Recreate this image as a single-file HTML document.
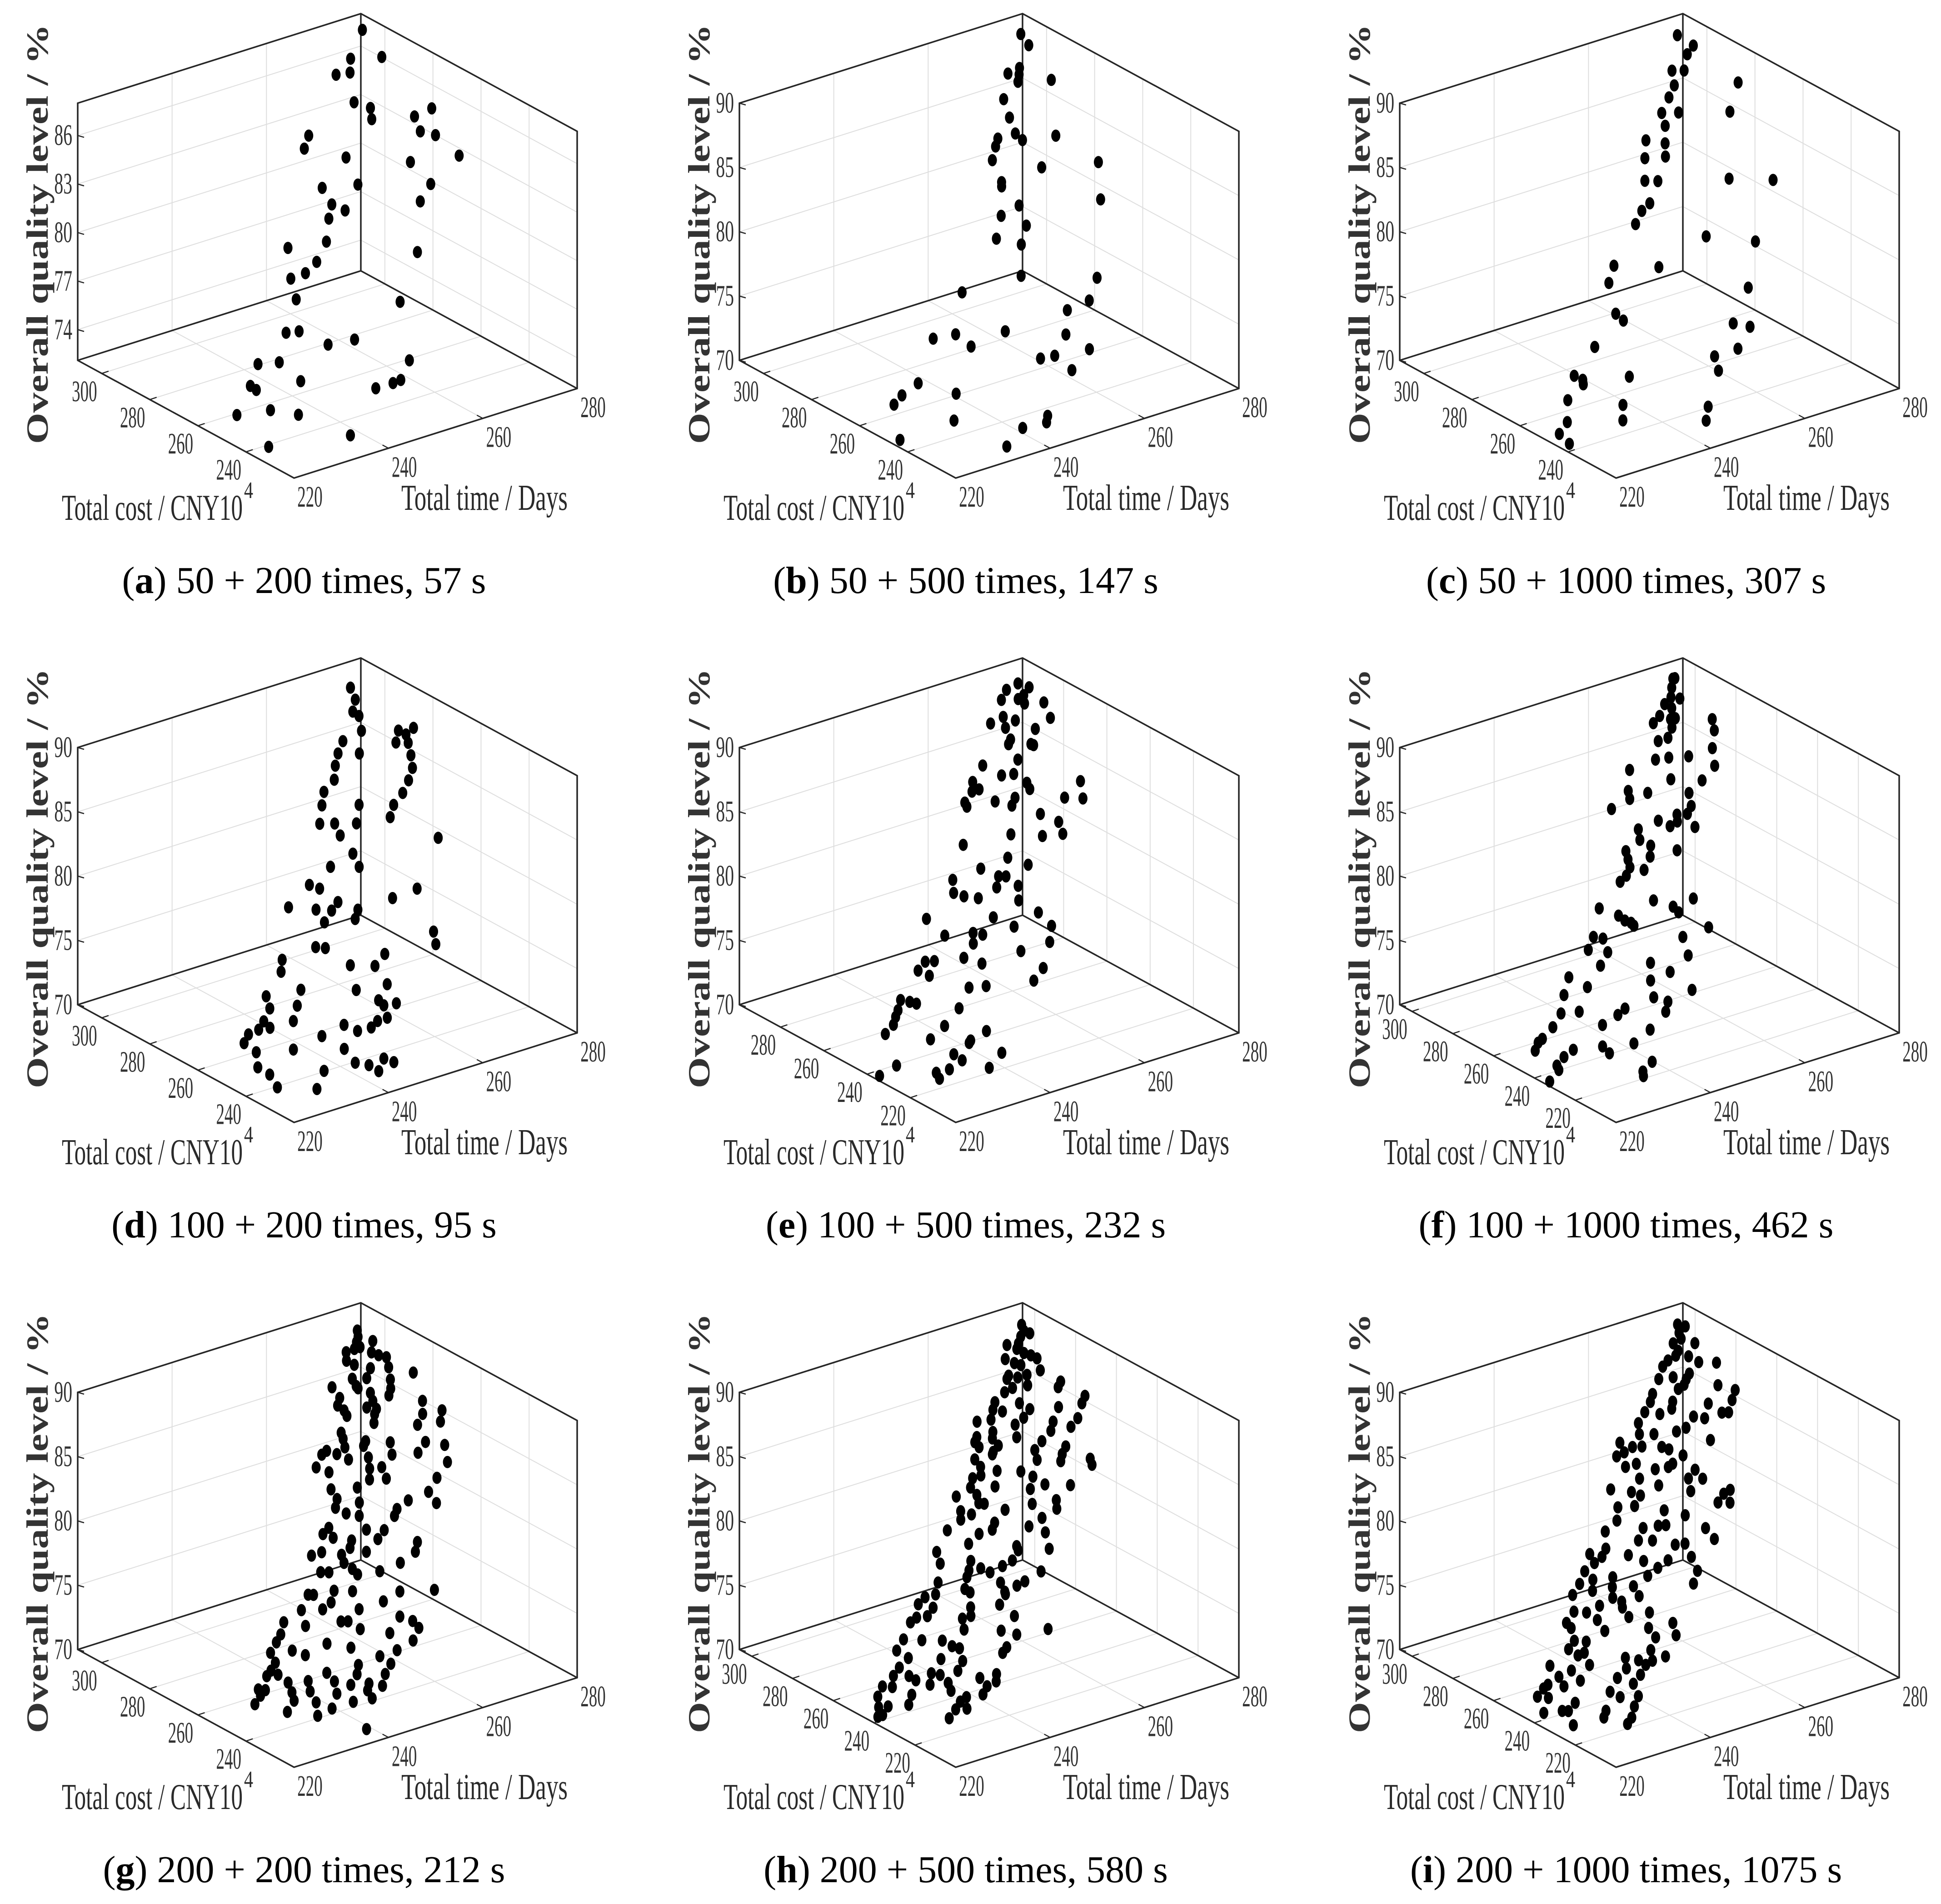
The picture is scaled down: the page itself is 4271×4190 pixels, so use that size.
<!DOCTYPE html>
<html>
<head>
<meta charset="utf-8">
<title>3D scatter comparison</title>
<style>
html,body{margin:0;padding:0;background:#fff;}
svg{display:block;}
</style>
</head>
<body>
<svg id="fig" xmlns="http://www.w3.org/2000/svg" width="4271" height="4190" viewBox="0 0 4271 4190">
<rect x="0" y="0" width="4271" height="4190" fill="#ffffff"/>
</svg>
<script>
// ---------- data ----------
const timeTicks=[220,240,260,280];
const qTicksA=[74,77,80,83,86];
const qTicks=[70,75,80,85,90];
const costTicks1=[240,260,280,300];
const costTicks2=[220,240,260,280,300];
const costTicksE=[220,240,260,280];

const costA=[306.6,299.9,301.5,298.8,299.1,292.4,290.3,287.8,286.2,285.7,282.3,280.5,288.7,286.2,281.8,274.8,276.8,275.5,270.9,277.0,273.0,271.2,268.0,270.5,266.0,267.3,258.0,262.4,261.0,260.6,256.0,249.1,250.0,249.5,244.1,244.9,244.6,245.4,236.6,239.2,241.5,240.2,233.1,232.8,232.9,236.5,235.3,232.7,225.0,228.0];
const timeA=[278.6,279.3,273.5,272.0,269.2,269.6,272.0,271.0,282.9,279.0,278.5,280.8,258.1,255.9,262.5,282.9,273.6,261.8,274.9,255.0,255.0,256.9,271.2,253.1,250.3,242.8,265.5,246.4,243.3,240.0,238.8,257.3,233.6,236.1,245.1,239.9,229.4,225.3,252.9,231.2,221.7,222.3,249.3,247.5,243.9,216.3,222.8,227.4,234.5,218.7];
const qualA=[87.4,86.2,86.5,86.0,86.1,84.9,84.5,84.1,83.8,83.7,83.1,82.8,84.2,83.8,83.0,81.8,82.1,81.9,81.1,82.2,81.5,81.1,80.6,81.0,80.2,80.4,78.8,79.6,79.3,79.3,78.5,77.2,77.4,77.3,76.4,76.5,76.4,76.6,75.0,75.5,75.9,75.7,74.4,74.4,74.4,75.0,74.8,74.3,73.0,73.5];

const costB=[306.0,303.1,298.8,299.1,297.9,296.4,294.7,293.9,289.7,286.1,286.3,284.7,284.3,283.2,282.3,277.5,275.1,277.1,276.3,267.3,271.2,270.2,266.6,266.1,263.2,256.8,251.7,257.2,247.5,246.8,246.7,249.1,249.8,242.1,245.8,237.6,238.7,238.5,234.5,241.7,240.2,238.8,237.1,231.9,231.4,226.7,225.6,225.9,223.1];
const timeB=[277.6,277.8,271.2,273.8,273.1,272.1,278.3,267.8,266.9,266.3,262.7,261.4,266.9,273.4,259.5,267.5,278.3,258.8,258.4,274.8,259.5,255.2,258.7,252.1,255.9,252.6,266.1,240.3,262.3,257.3,244.1,234.8,230.4,254.6,236.4,257.3,247.5,250.4,252.0,223.1,218.9,216.5,228.8,225.7,214.0,242.9,242.1,237.2,232.4];
const qualB=[89.1,88.5,87.5,87.6,87.3,87.0,86.6,86.4,85.5,84.7,84.7,84.4,84.3,84.0,83.8,82.8,82.2,82.7,82.5,80.5,81.4,81.2,80.4,80.2,79.6,78.2,77.0,78.3,76.1,76.0,75.9,76.5,76.6,74.9,75.7,73.9,74.2,74.1,73.2,74.8,74.5,74.2,73.8,72.6,72.5,71.5,71.2,71.3,70.7];

const costC=[306.0,301.5,302.9,299.0,298.5,295.9,294.0,292.5,291.3,290.2,287.1,288.3,286.7,284.8,283.2,282.1,278.5,277.6,273.5,270.5,273.7,272.5,270.2,263.4,259.0,263.3,260.1,260.1,250.2,253.5,251.5,243.9,242.2,248.1,238.4,238.3,235.1,243.5,242.1,241.1,239.6,238.9,234.4,228.6,234.6,231.3,225.9,232.6,230.0];
const timeC=[276.8,276.6,278.6,272.1,274.4,271.0,268.9,282.8,266.0,269.0,278.3,265.2,260.3,263.4,258.3,262.1,255.9,258.2,271.2,279.0,254.5,252.2,249.7,261.2,269.4,241.6,249.5,238.9,263.4,237.0,237.6,257.0,259.7,229.8,255.2,250.2,249.4,223.1,224.2,223.8,232.8,219.4,228.8,243.9,217.1,227.2,242.1,214.4,215.2];
const qualC=[89.1,88.1,88.4,87.6,87.4,86.9,86.4,86.1,85.8,85.6,84.9,85.2,84.8,84.4,84.0,83.8,83.0,82.8,81.9,81.2,81.9,81.7,81.2,79.6,78.7,79.6,78.9,78.9,76.7,77.4,77.0,75.3,74.9,76.2,74.1,74.1,73.4,75.2,74.9,74.7,74.4,74.2,73.2,71.9,73.2,72.5,71.3,72.8,72.2];

const costD=[304.7,301.9,299.6,298.4,295.2,294.3,292.2,289.8,290.8,292.8,291.6,292.4,289.7,287.0,290.5,284.4,282.1,280.0,278.1,275.8,285.1,282.6,279.0,278.1,275.2,276.7,280.3,286.9,270.7,269.6,267.7,268.4,262.0,265.7,267.2,260.7,258.6,261.7,259.0,257.4,259.3,259.5,263.9,249.9,247.2,254.2,253.5,253.8,251.3,247.3,244.6,246.4,243.6,241.0,240.9,242.4,240.8,240.5,234.8,239.2,236.7,233.5,231.3,228.3,235.7,228.5,225.2,231.7,236.5,234.6,234.2,235.1,235.2,238.0,239.4,248.4,246.6,242.1,237.7,242.8,248.2,226.9,227.2,225.8,228.3,225.0];
const timeD=[275.1,274.7,273.0,273.7,272.6,268.2,266.1,264.3,269.9,279.2,280.2,282.2,279.7,278.9,277.5,277.9,275.9,273.6,270.7,268.8,259.5,257.8,255.5,258.2,257.9,262.1,264.5,262.6,258.3,253.0,258.1,275.2,250.7,248.7,247.3,248.7,246.1,245.9,253.4,252.0,260.9,266.2,241.2,264.8,263.9,242.0,243.7,234.7,233.2,228.0,227.4,234.9,232.7,223.2,221.0,225.0,225.5,230.3,227.4,219.2,220.5,219.2,220.6,220.7,233.9,230.7,227.5,236.6,239.0,240.9,243.6,245.4,247.5,248.2,247.8,253.7,250.7,251.0,250.7,244.8,246.3,239.4,242.7,244.1,237.2,240.5];
const qualD=[88.8,88.2,87.7,87.4,86.7,86.5,86.0,85.5,85.7,86.2,85.9,86.1,85.5,84.9,85.7,84.3,83.8,83.3,82.9,82.4,84.5,83.9,83.1,82.9,82.3,82.6,83.4,84.9,81.3,81.0,80.6,80.8,79.3,80.2,80.5,79.0,78.6,79.3,78.7,78.3,78.7,78.8,79.8,76.6,76.0,77.6,77.4,77.5,77.0,76.1,75.5,75.9,75.2,74.7,74.6,75.0,74.6,74.6,73.3,74.3,73.7,73.0,72.5,71.8,73.5,71.9,71.2,72.6,73.7,73.2,73.2,73.4,73.4,74.0,74.3,76.3,75.9,74.9,73.9,75.1,76.3,71.5,71.6,71.3,71.8,71.1];

const costE=[293.7,291.8,292.9,291.1,290.1,290.6,288.7,287.4,287.2,285.3,283.5,286.5,284.4,282.2,281.4,280.6,279.0,278.6,276.3,277.7,274.0,273.4,274.7,270.6,268.8,272.4,272.4,267.2,263.0,264.5,268.7,268.0,266.4,270.5,269.3,262.6,259.4,256.4,260.1,257.3,261.2,255.0,251.9,254.4,251.4,250.8,249.2,253.8,250.8,249.3,247.9,247.8,244.7,247.0,242.7,239.0,240.4,236.5,241.8,240.5,239.3,238.2,233.0,233.0,235.6,232.9,237.3,236.8,235.8,233.9,227.7,225.3,228.4,227.7,230.6,229.4,228.7,228.3,227.2,225.4,224.5,221.6,223.9,219.6,217.3,216.3,215.9,214.5,212.6,211.3,208.8,211.3,211.7,210.0,216.1,214.8];
const timeE=[276.6,278.1,273.8,271.9,275.0,276.4,275.7,279.2,270.5,272.2,278.8,267.5,269.7,275.0,269.4,268.6,272.6,273.0,268.6,261.8,264.1,266.4,258.3,267.9,267.7,257.1,258.6,277.7,276.3,273.1,260.3,264.2,262.8,254.7,254.6,267.1,269.5,269.0,259.7,265.1,250.1,256.7,259.6,250.7,253.1,254.4,251.7,244.5,243.3,244.8,247.2,255.6,254.3,235.8,248.0,250.7,256.5,257.5,237.3,242.7,244.2,241.7,255.5,249.4,238.5,241.1,231.1,232.8,228.9,230.4,251.7,248.6,236.3,239.6,222.8,224.2,225.3,221.2,220.2,218.9,232.4,228.0,216.5,224.1,234.9,231.1,230.6,226.7,227.6,235.4,231.6,224.3,221.7,221.6,215.3,211.1];
const qualE=[88.9,88.6,88.8,88.4,88.2,88.3,87.9,87.7,87.6,87.3,86.9,87.5,87.1,86.6,86.5,86.3,86.0,85.9,85.5,85.7,85.0,84.9,85.1,84.3,84.0,84.7,84.7,83.6,82.8,83.1,83.9,83.8,83.5,84.3,84.1,82.7,82.1,81.5,82.2,81.7,82.4,81.2,80.6,81.1,80.5,80.4,80.0,81.0,80.4,80.1,79.8,79.8,79.1,79.6,78.7,78.0,78.3,77.5,78.6,78.3,78.1,77.8,76.8,76.8,77.3,76.8,77.7,77.6,77.4,77.0,75.7,75.3,75.9,75.7,76.3,76.1,75.9,75.9,75.6,75.3,75.1,74.5,75.0,74.1,73.7,73.5,73.4,73.1,72.7,72.5,72.0,72.5,72.5,72.2,73.4,73.2];

const costF=[301.9,301.8,299.9,297.5,296.6,296.2,294.8,294.0,292.4,292.1,292.5,290.3,288.1,288.0,289.3,286.2,282.3,277.7,283.8,283.3,281.9,283.3,277.9,275.3,278.2,276.3,276.5,273.4,270.0,275.3,269.1,268.4,269.0,267.3,266.7,264.7,268.4,265.8,263.5,264.1,260.5,261.9,261.0,260.0,258.2,258.1,257.2,250.1,247.7,247.4,245.4,252.4,249.2,247.5,246.5,245.8,239.5,246.0,244.8,239.4,243.2,241.3,234.5,238.6,235.6,238.4,232.0,231.4,234.6,225.9,234.3,227.1,225.0,230.2,229.4,226.6,225.7,222.6,224.2,219.6,227.5,225.7,225.0,223.2,217.6,219.3,217.1,220.5,219.5,218.1,216.7,211.9,210.2,209.0,214.7];
const timeF=[276.1,276.5,275.0,273.8,275.3,271.9,272.8,269.9,271.5,272.4,267.9,270.9,269.1,267.0,279.0,278.1,276.0,274.5,264.6,267.2,270.8,258.9,265.3,270.8,256.4,255.9,259.8,267.2,266.2,251.6,262.8,264.7,258.8,262.1,260.3,264.7,254.3,253.5,254.8,249.8,259.1,249.3,253.6,248.9,251.1,247.3,245.6,249.6,257.0,252.6,252.9,239.1,241.8,242.4,243.3,243.6,256.7,235.1,236.6,251.2,232.8,236.1,250.2,233.4,242.7,226.6,245.3,240.9,228.9,247.3,223.8,239.7,241.8,221.4,224.9,233.4,231.5,240.3,227.6,235.7,218.5,215.5,214.3,212.9,231.4,225.5,226.0,219.8,217.4,215.3,215.1,232.8,230.1,229.7,212.3];
const qualF=[89.2,89.2,88.8,88.4,88.2,88.2,87.9,87.7,87.4,87.4,87.5,87.0,86.6,86.6,86.8,86.3,85.5,84.7,85.8,85.7,85.5,85.7,84.7,84.2,84.8,84.4,84.4,83.8,83.2,84.2,83.0,82.9,83.0,82.7,82.6,82.2,82.9,82.4,82.0,82.1,81.4,81.7,81.5,81.3,81.0,81.0,80.8,79.5,79.0,78.9,78.6,79.9,79.3,79.0,78.8,78.6,77.5,78.7,78.5,77.4,78.2,77.8,76.5,77.3,76.7,77.2,76.0,75.9,76.5,74.9,76.5,75.1,74.7,75.7,75.5,75.0,74.8,74.3,74.6,73.7,75.2,74.8,74.7,74.4,73.3,73.6,73.2,73.9,73.7,73.4,73.2,72.2,71.9,71.7,72.8];

const costG=[304.6,303.3,302.2,301.1,301.1,301.5,299.3,300.8,298.1,297.2,299.1,297.8,295.1,294.4,296.2,295.1,292.6,292.5,293.5,294.7,290.7,292.7,291.1,292.1,289.5,289.3,290.6,286.1,288.3,287.4,289.1,282.9,286.4,283.5,287.9,280.8,281.5,284.7,285.0,283.6,281.5,280.8,277.6,275.7,279.7,281.7,282.2,281.7,280.9,279.0,276.0,277.2,278.2,272.0,279.5,277.7,275.7,275.2,272.7,273.6,269.7,272.8,274.1,267.3,266.9,271.6,269.6,270.1,264.4,265.7,268.2,266.9,264.6,266.4,265.5,263.5,262.4,264.0,262.4,260.9,260.9,257.8,255.9,261.9,259.0,261.8,260.1,254.7,258.3,258.0,257.3,256.6,255.0,254.4,253.2,249.0,252.0,254.0,253.7,247.0,251.1,250.3,248.0,251.3,247.9,246.6,246.2,243.7,250.0,248.0,243.7,242.1,240.3,241.0,238.2,247.7,243.0,240.5,246.4,237.2,244.7,243.7,242.0,236.9,242.3,236.6,234.7,241.0,239.8,237.0,234.8,233.1,240.2,236.5,237.6,234.8,233.1,232.2,230.9,238.2,237.4,234.3,232.2,231.0,236.7,235.4,235.3,233.5,231.8,229.5,228.9,231.6,228.8,229.5,223.0];
const timeG=[276.5,276.0,275.1,275.3,274.1,278.2,276.8,272.2,277.7,278.9,271.4,272.4,278.3,273.3,275.0,270.6,277.4,282.2,270.6,266.1,276.5,270.6,272.4,266.4,275.5,272.0,265.2,280.9,270.2,271.8,265.8,283.4,270.9,279.6,265.8,282.0,277.5,269.9,263.1,262.8,266.5,265.7,277.2,280.3,270.8,262.2,258.6,257.3,260.1,261.6,274.8,269.9,265.4,279.0,255.0,256.8,264.4,266.7,266.4,263.3,275.6,260.3,255.4,272.6,268.1,255.4,259.1,254.3,272.8,265.1,255.6,257.7,264.0,251.0,249.3,257.5,260.7,250.7,253.8,258.6,252.7,265.4,264.0,247.2,255.2,245.0,250.5,260.2,250.1,245.0,246.4,251.0,251.3,255.7,245.4,257.2,248.7,240.3,241.3,263.5,243.7,241.5,253.2,237.5,248.0,243.5,244.8,254.5,233.1,236.7,246.1,256.4,256.8,251.0,254.5,231.3,238.7,242.5,229.7,250.6,227.6,231.7,233.6,246.8,227.4,242.1,248.0,225.8,226.7,235.6,240.9,246.0,224.5,231.4,227.7,236.1,238.7,242.1,244.3,221.7,222.8,230.7,235.3,241.2,221.4,227.4,219.5,226.9,230.7,237.4,241.1,224.5,229.5,232.9,236.9];
const qualG=[88.8,88.5,88.3,88.0,88.0,88.1,87.6,88.0,87.4,87.2,87.6,87.3,86.7,86.5,86.9,86.7,86.1,86.1,86.3,86.6,85.7,86.2,85.8,86.0,85.4,85.4,85.7,84.7,85.2,85.0,85.4,84.0,84.8,84.1,85.1,83.5,83.7,84.4,84.4,84.1,83.7,83.5,82.8,82.4,83.3,83.7,83.8,83.7,83.5,83.1,82.4,82.7,82.9,81.6,83.2,82.8,82.4,82.3,81.7,81.9,81.0,81.7,82.0,80.5,80.4,81.5,81.0,81.1,79.9,80.2,80.7,80.4,79.9,80.3,80.1,79.7,79.4,79.8,79.4,79.1,79.1,78.4,78.0,79.3,78.7,79.3,78.9,77.7,78.5,78.4,78.3,78.1,77.8,77.6,77.4,76.4,77.1,77.6,77.5,76.0,76.9,76.7,76.2,77.0,76.2,75.9,75.8,75.3,76.7,76.2,75.3,74.9,74.5,74.7,74.0,76.2,75.1,74.6,75.9,73.8,75.5,75.3,74.9,73.8,75.0,73.7,73.3,74.7,74.4,73.8,73.3,72.9,74.5,73.7,73.9,73.3,72.9,72.7,72.4,74.0,73.9,73.2,72.7,72.4,73.7,73.4,73.4,73.0,72.6,72.1,72.0,72.6,72.0,72.1,70.7];

const costH=[300.9,299.3,298.3,298.1,296.7,297.2,295.4,294.0,292.9,291.5,293.9,292.2,291.3,288.5,289.7,288.3,288.5,288.9,286.4,285.9,286.1,284.3,283.0,279.1,277.6,284.4,282.3,282.6,281.4,280.0,278.2,274.3,278.4,280.3,275.3,280.9,277.5,272.8,273.4,277.3,274.4,277.3,275.9,271.3,276.2,268.4,274.8,273.7,272.5,269.7,266.9,272.0,265.3,272.3,267.4,263.6,262.0,269.9,267.6,265.9,267.9,263.7,267.8,258.7,260.8,260.8,265.8,264.2,264.7,263.4,256.4,261.3,257.1,260.7,260.7,254.3,257.9,258.8,259.1,252.2,253.2,255.4,257.3,254.0,249.5,254.0,252.4,248.3,245.3,247.1,252.8,249.9,245.3,248.1,245.8,244.0,244.6,246.0,244.7,240.5,245.4,240.7,238.9,239.2,242.0,240.6,242.7,238.4,237.6,243.0,241.7,240.0,235.6,237.1,238.4,238.8,235.1,235.1,231.6,237.9,232.2,229.3,226.2,227.2,234.6,233.0,231.3,232.4,229.3,228.2,224.7,223.7,229.7,226.9,224.8,228.1,224.2,223.0,219.3,226.6,225.2,223.1,219.4,221.6,223.7,220.8,217.4,217.0,224.1,224.8,222.7,220.6,218.7,215.3,216.0,220.2,219.7,218.4,215.3,213.0,213.9,217.8,218.0,212.2];
const timeH=[277.6,277.4,278.2,276.2,275.1,272.9,274.2,275.1,276.1,276.8,271.1,272.3,273.3,276.2,270.0,273.3,271.4,269.3,269.4,272.4,267.6,278.7,277.6,281.6,280.3,264.8,269.1,263.6,265.1,270.3,275.6,278.0,268.3,262.2,273.2,259.5,266.1,275.9,271.9,261.3,265.1,257.9,260.6,269.1,257.0,272.9,257.3,260.9,259.3,266.9,271.5,258.9,270.5,255.3,266.4,276.0,275.7,255.5,258.0,262.3,254.7,263.9,252.9,269.7,262.1,265.2,251.6,256.1,248.1,251.9,265.7,251.4,260.9,247.3,252.3,264.9,255.5,246.5,248.9,258.1,261.3,252.2,243.0,251.1,260.4,248.3,245.4,253.8,259.4,253.6,238.8,238.3,251.6,244.0,245.1,246.3,249.2,242.7,241.7,255.6,235.9,247.1,249.8,251.6,240.1,240.6,234.2,247.0,246.8,232.1,230.1,232.5,244.7,239.2,230.6,228.5,236.6,238.4,246.1,226.8,235.7,242.3,250.9,244.7,223.9,227.1,230.7,221.5,231.9,233.0,241.5,240.2,222.8,228.5,232.2,220.2,225.3,230.4,237.0,218.3,221.0,226.7,233.5,223.9,221.8,227.4,236.1,234.0,217.0,215.2,213.3,219.6,227.1,232.4,229.2,212.4,214.2,218.0,227.6,228.0,226.0,211.2,212.3,223.9];
const qualH=[89.0,88.7,88.5,88.5,88.2,88.3,88.0,87.7,87.5,87.3,87.7,87.4,87.2,86.7,86.9,86.7,86.7,86.8,86.3,86.2,86.2,85.9,85.7,84.9,84.6,85.9,85.5,85.6,85.4,85.1,84.8,84.0,84.8,85.2,84.2,85.3,84.6,83.7,83.8,84.6,84.0,84.6,84.3,83.5,84.4,82.9,84.1,83.9,83.7,83.2,82.6,83.6,82.3,83.6,82.7,82.0,81.7,83.2,82.8,82.4,82.8,82.0,82.8,81.1,81.5,81.5,82.4,82.1,82.2,82.0,80.6,81.6,80.8,81.5,81.5,80.2,80.9,81.1,81.2,79.8,80.0,80.5,80.8,80.2,79.3,80.2,79.9,79.1,78.5,78.9,80.0,79.4,78.5,79.1,78.6,78.3,78.4,78.7,78.4,77.6,78.6,77.7,77.3,77.4,77.9,77.7,78.1,77.2,77.1,78.1,77.9,77.5,76.7,77.0,77.2,77.3,76.6,76.6,76.0,77.2,76.1,75.5,74.9,75.1,76.5,76.2,75.9,76.1,75.5,75.3,74.7,74.5,75.6,75.1,74.7,75.3,74.6,74.3,73.6,75.0,74.8,74.4,73.7,74.1,74.5,73.9,73.3,73.2,74.5,74.7,74.3,73.9,73.5,72.9,73.0,73.8,73.7,73.5,72.9,72.5,72.6,73.4,73.4,72.3];

const costI=[301.2,300.2,299.1,297.6,297.1,294.9,295.5,292.8,294.0,293.4,292.3,290.6,289.3,288.7,287.5,288.8,289.6,285.6,286.2,283.5,281.3,279.1,286.6,284.7,283.0,279.9,282.8,281.2,281.4,276.7,276.4,278.1,276.6,280.6,276.0,277.8,276.7,275.6,271.2,277.2,275.4,274.7,273.1,271.9,274.4,274.6,269.6,271.0,271.2,268.2,268.2,267.8,265.1,263.5,262.3,267.1,264.2,266.9,264.6,263.2,260.3,257.3,257.6,255.5,254.7,262.0,261.2,257.8,259.0,255.2,254.5,254.2,254.9,250.5,257.1,252.6,251.5,248.3,247.1,253.1,251.3,248.7,249.7,247.3,245.5,244.7,252.9,250.6,249.1,245.8,243.2,244.5,240.8,246.5,246.5,243.2,242.1,237.9,244.4,243.9,240.7,239.1,240.0,239.1,237.8,234.5,240.5,239.2,234.9,238.4,236.7,236.8,233.5,231.0,230.2,227.0,228.0,233.4,232.2,231.8,229.9,225.3,222.7,229.5,225.5,223.9,222.6,226.5,226.4,229.4,222.2,222.9,220.4,225.9,221.3,223.5,218.8,224.8,223.2,224.2,222.8,218.4,221.6,216.5,215.2,218.4,213.0,217.6,217.1,218.3,214.2,212.9,210.8,213.3,209.4];
const timeI=[276.8,278.0,276.2,276.0,274.1,274.2,278.0,275.5,273.3,271.4,269.8,276.7,279.9,273.9,272.7,270.5,267.8,270.2,271.7,277.7,280.4,278.8,265.2,263.9,267.9,274.1,261.9,264.4,267.0,275.6,276.9,270.2,271.9,259.6,267.7,258.6,261.2,265.5,270.8,254.2,256.1,257.8,261.3,262.3,252.3,254.0,264.3,255.0,252.8,261.5,257.8,260.4,264.9,262.8,265.3,254.0,256.8,247.8,251.2,252.5,261.9,267.6,269.1,265.6,267.8,247.2,250.4,255.2,245.7,249.6,252.5,254.0,258.4,260.8,242.4,247.5,250.0,255.5,261.2,240.8,239.2,253.6,244.1,246.3,250.7,255.3,237.3,237.3,234.6,239.1,245.4,248.1,254.9,232.4,235.2,237.9,241.9,252.8,230.0,234.0,236.9,241.8,233.8,238.1,237.7,242.0,228.6,230.7,237.8,226.1,231.9,226.4,232.1,240.3,245.1,244.4,240.5,225.6,227.6,223.7,226.2,238.3,240.3,224.7,233.0,235.1,237.5,222.0,225.8,218.7,235.9,232.1,234.0,219.1,229.5,222.6,231.8,216.3,219.0,215.1,213.2,226.7,215.0,228.0,231.3,219.3,229.5,216.2,217.3,212.6,224.0,223.0,228.0,216.7,226.5];
const qualI=[89.1,88.9,88.7,88.4,88.3,87.9,88.0,87.5,87.7,87.6,87.4,87.1,86.8,86.7,86.5,86.8,86.9,86.2,86.3,85.8,85.3,84.9,86.3,86.0,85.7,85.1,85.6,85.3,85.4,84.5,84.4,84.7,84.5,85.2,84.3,84.7,84.5,84.3,83.4,84.6,84.2,84.1,83.8,83.6,84.0,84.1,83.1,83.4,83.4,82.9,82.9,82.8,82.3,82.0,81.8,82.7,82.1,82.6,82.2,81.9,81.4,80.8,80.9,80.5,80.3,81.7,81.5,80.9,81.1,80.4,80.3,80.2,80.4,79.5,80.8,79.9,79.7,79.1,78.9,80.0,79.7,79.2,79.4,78.9,78.6,78.4,80.0,79.5,79.3,78.6,78.2,78.4,77.7,78.8,78.8,78.2,77.9,77.2,78.4,78.3,77.7,77.4,77.5,77.4,77.1,76.5,77.6,77.4,76.6,77.2,76.9,76.9,76.3,75.8,75.7,75.1,75.3,76.3,76.1,76.0,75.6,74.8,74.3,75.6,74.8,74.5,74.3,75.0,75.0,75.5,74.2,74.3,73.8,74.9,74.0,74.4,73.5,74.7,74.4,74.6,74.3,73.5,74.1,73.1,72.9,73.5,72.5,73.3,73.2,73.5,72.7,72.4,72.0,72.5,71.8];

// ---------- layout (not data) ----------
const NS='http://www.w3.org/2000/svg';
const svg=document.getElementById('fig');
const timeMin=220, timeMax=280;
const GEO={fx:-144, fy:1020, cx:-476, cy:-259, tx:623, ty:-197, h:566};
const panels=[
 {id:'a',ox:791, oy:32,  cmin:220,cmax:310,qmin:72.1,qmax:88,qt:qTicksA,ct:costTicks1,cost:costA,time:timeA,qual:qualA,cap:' 50 + 200 times, 57 s'},
 {id:'b',ox:2247,oy:32,  cmin:220,cmax:310,qmin:70,qmax:90,qt:qTicks,ct:costTicks1,cost:costB,time:timeB,qual:qualB,cap:' 50 + 500 times, 147 s'},
 {id:'c',ox:3700,oy:32,  cmin:220,cmax:310,qmin:70,qmax:90,qt:qTicks,ct:costTicks1,cost:costC,time:timeC,qual:qualC,cap:' 50 + 1000 times, 307 s'},
 {id:'d',ox:791, oy:1450,cmin:220,cmax:310,qmin:70,qmax:90,qt:qTicks,ct:costTicks1,cost:costD,time:timeD,qual:qualD,cap:' 100 + 200 times, 95 s'},
 {id:'e',ox:2247,oy:1450,cmin:199,cmax:299,qmin:70,qmax:90,qt:qTicks,ct:costTicksE,cost:costE,time:timeE,qual:qualE,cap:' 100 + 500 times, 232 s'},
 {id:'f',ox:3700,oy:1450,cmin:200,cmax:306,qmin:70,qmax:90,qt:qTicks,ct:costTicks2,cost:costF,time:timeF,qual:qualF,cap:' 100 + 1000 times, 462 s'},
 {id:'g',ox:791, oy:2869,cmin:220,cmax:310,qmin:70,qmax:90,qt:qTicks,ct:costTicks1,cost:costG,time:timeG,qual:qualG,cap:' 200 + 200 times, 212 s'},
 {id:'h',ox:2247,oy:2869,cmin:200,cmax:306,qmin:70,qmax:90,qt:qTicks,ct:costTicks2,cost:costH,time:timeH,qual:qualH,cap:' 200 + 500 times, 580 s'},
 {id:'i',ox:3700,oy:2869,cmin:200,cmax:306,qmin:70,qmax:90,qt:qTicks,ct:costTicks2,cost:costI,time:timeI,qual:qualI,cap:' 200 + 1000 times, 1075 s'}
];

function mk(tag, attrs, parent){
  const el=document.createElementNS(NS,tag);
  for(const k in attrs) el.setAttribute(k,attrs[k]);
  parent.appendChild(el);
  return el;
}
function proj(p,c,t,q){
  const uc=(c-p.cmin)/(p.cmax-p.cmin);
  const ut=(t-timeMin)/(timeMax-timeMin);
  const uq=(q-p.qmin)/(p.qmax-p.qmin);
  return [p.ox+GEO.fx+GEO.cx*uc+GEO.tx*ut, p.oy+GEO.fy+GEO.cy*uc+GEO.ty*ut-GEO.h*uq];
}

panels.forEach(p=>{
  const g=mk('g',{},svg);
  
  

  const grid=mk('g',{stroke:'#dedede','stroke-width':2,fill:'none'},g);
  
  
  function gl(a,b){
    const l=mk('line',{x1:a[0],y1:a[1],x2:b[0],y2:b[1]},grid);
    
    
  }
  p.ct.forEach(c=>{
    if(c<=p.cmin+1||c>=p.cmax-1) return;
    gl(proj(p,c,timeMin,p.qmin),proj(p,c,timeMax,p.qmin));
    gl(proj(p,c,timeMax,p.qmin),proj(p,c,timeMax,p.qmax));
  });
  timeTicks.forEach(t=>{
    if(t<=timeMin||t>=timeMax) return;
    gl(proj(p,p.cmin,t,p.qmin),proj(p,p.cmax,t,p.qmin));
    gl(proj(p,p.cmax,t,p.qmin),proj(p,p.cmax,t,p.qmax));
  });
  p.qt.forEach(q=>{
    if(q<=p.qmin+0.01||q>=p.qmax-0.01) return;
    gl(proj(p,p.cmax,timeMin,q),proj(p,p.cmax,timeMax,q));
    gl(proj(p,p.cmax,timeMax,q),proj(p,p.cmin,timeMax,q));
  });

  const box=mk('g',{stroke:'#262626','stroke-width':3.5,fill:'none','stroke-linecap':'round'},g);
  
  
  const F=proj(p,p.cmin,timeMin,p.qmin), L=proj(p,p.cmax,timeMin,p.qmin), R=proj(p,p.cmin,timeMax,p.qmin), B=proj(p,p.cmax,timeMax,p.qmin);
  const Lt=proj(p,p.cmax,timeMin,p.qmax), Rt=proj(p,p.cmin,timeMax,p.qmax), Bt=proj(p,p.cmax,timeMax,p.qmax);
  const pts=`M${L[0]},${L[1]} L${F[0]},${F[1]} L${R[0]},${R[1]} M${L[0]},${L[1]} L${B[0]},${B[1]} L${R[0]},${R[1]} M${L[0]},${L[1]} L${Lt[0]},${Lt[1]} L${Bt[0]},${Bt[1]} L${Rt[0]},${Rt[1]} L${R[0]},${R[1]} M${B[0]},${B[1]} L${Bt[0]},${Bt[1]}`;
  const bp=mk('path',{d:pts},box);
  
  

  const tk=mk('g',{stroke:'#262626','stroke-width':2.5},g);
  
  
  p.ct.forEach(c=>{
    const a=proj(p,c,timeMin,p.qmin);
    const t1=mk('line',{x1:a[0],y1:a[1],x2:a[0]+15,y2:a[1]-5},tk);
    
    
  });
  timeTicks.forEach(t=>{
    const a=proj(p,p.cmin,t,p.qmin);
    const t2=mk('line',{x1:a[0],y1:a[1],x2:a[0]-13,y2:a[1]-7},tk);
    
    
  });
  p.qt.forEach(q=>{
    const a=proj(p,p.cmax,timeMin,q);
    const t3=mk('line',{x1:a[0],y1:a[1],x2:a[0]+14,y2:a[1]+4},tk);
    
    
  });

  const dots=mk('g',{fill:'#000'},g);
  
  
  const n=Math.min(p.cost.length,p.time.length,p.qual.length);
  for(let i=0;i<n;i++){
    const s=proj(p,p.cost[i],p.time[i],p.qual[i]);
    const e=mk('ellipse',{cx:s[0].toFixed(1),cy:s[1].toFixed(1),rx:10,ry:13.5},dots);
    
    
  }

  const lab=mk('g',{'font-family':'"Liberation Serif", serif','font-size':66,fill:'#333'},g);
  
  
  p.qt.forEach(q=>{
    const a=proj(p,p.cmax,timeMin,q);
    const t=mk('text',{transform:`translate(${a[0]-12},${a[1]+21}) scale(0.6,1)`,'text-anchor':'end'},lab);
    t.textContent=q;
    
    
  });
  p.ct.forEach(c=>{
    const a=proj(p,c,timeMin,p.qmin);
    const t=mk('text',{transform:`translate(${a[0]-38},${a[1]+61}) scale(0.56,1)`,'text-anchor':'middle'},lab);
    t.textContent=c;
    
    
  });
  timeTicks.forEach(tv=>{
    const a=proj(p,p.cmin,tv,p.qmin);
    const t=mk('text',{transform:`translate(${a[0]+35},${a[1]+63}) scale(0.56,1)`,'text-anchor':'middle'},lab);
    t.textContent=tv;
    
    
  });

  const yt=mk('text',{transform:`translate(${p.ox-686},${p.oy+483}) rotate(-90)`,'text-anchor':'middle','font-family':'"Liberation Serif", serif','font-weight':'bold','font-size':68,fill:'#333',textLength:924,lengthAdjust:'spacingAndGlyphs'},g);
  yt.textContent='Overall quality level / %';
  
  

  const ctitle=mk('text',{x:p.ox-655,y:p.oy+1112,'font-family':'"Liberation Serif", serif','font-size':80,fill:'#2a2a2a',textLength:398,lengthAdjust:'spacingAndGlyphs'},g);
  ctitle.textContent='Total cost / CNY10';
  
  
  const sup=mk('text',{x:p.ox-254,y:p.oy+1064,'font-family':'"Liberation Serif", serif','font-size':52,fill:'#2a2a2a',textLength:20,lengthAdjust:'spacingAndGlyphs'},g);
  sup.textContent='4';
  
  

  const ttitle=mk('text',{x:p.ox+92,y:p.oy+1090,'font-family':'"Liberation Serif", serif','font-size':80,fill:'#2a2a2a',textLength:366,lengthAdjust:'spacingAndGlyphs'},g);
  ttitle.textContent='Total time / Days';
  
  

  const cap=mk('text',{x:p.ox-122,y:p.oy+1273,'text-anchor':'middle','font-family':'"Liberation Serif", serif','font-size':84,fill:'#000'},g);
  
  
  const s1=mk('tspan',{},cap); s1.textContent='(';
  
  
  const s2=mk('tspan',{'font-weight':'bold'},cap); s2.textContent=p.id;
  
  
  const s3=mk('tspan',{},cap); s3.textContent=')'+p.cap;
  
  
});
</script>
</body>
</html>
